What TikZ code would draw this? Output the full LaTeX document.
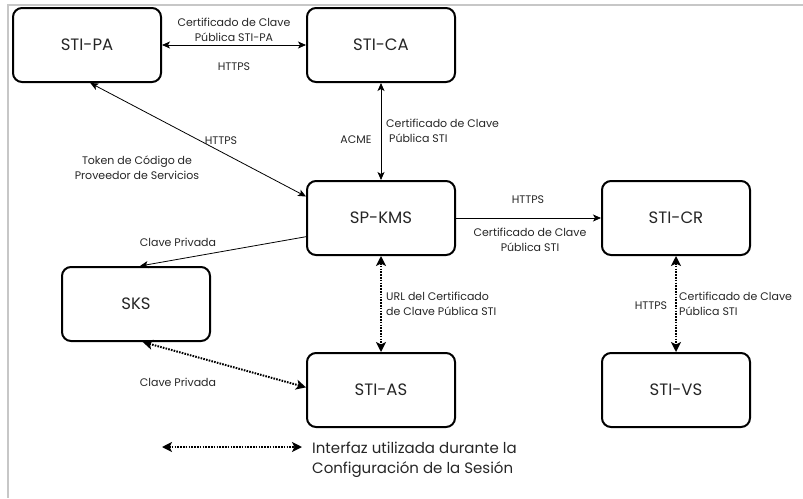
\documentclass[tikz,border=0pt]{standalone}
\usepackage{fontspec}
\setmainfont{Poppins}
\usetikzlibrary{arrows.meta,calc}

\begin{document}
\begin{tikzpicture}[x=1pt,y=-1pt,
  entity/.style={draw=black,line width=2pt,rounded corners=9pt,
    minimum width=148pt,minimum height=74pt,inner sep=0pt,
    font=\fontsize{16.5}{20}\selectfont,text=black!85},
  lbl/.style={font=\fontsize{11}{15}\selectfont,text=black!85,inner sep=0pt,align=center},
  lbll/.style={lbl,align=left},
  link/.style={line width=0.8pt,{Stealth[length=8pt,width=7pt,inset=2pt]}-{Stealth[length=8pt,width=7pt,inset=2pt]}},
  onelink/.style={line width=0.8pt,-{Stealth[length=8pt,width=7pt,inset=2pt]}},
  session/.style={line width=2pt,dash pattern=on 1.6pt off 1.2pt,
    {Stealth[length=10pt,width=10pt,inset=2.5pt]}-{Stealth[length=10pt,width=10pt,inset=2.5pt]}},
  frameline/.style={draw=black!22,line width=2pt}]

\useasboundingbox (0,0) rectangle (803,498);

% outer frame (top and left edges only)
\draw[frameline] (803,4.5) -- (7.5,4.5) -- (7.5,498);

% components
\node[entity] (pa)  at (87,45)   {STI-PA};
\node[entity] (ca)  at (381,45)  {STI-CA};
\node[entity] (kms) at (381,218) {SP-KMS};
\node[entity] (cr)  at (676,218) {STI-CR};
\node[entity] (sks) at (136,304) {SKS};
\node[entity] (as)  at (381,390) {STI-AS};
\node[entity] (vs)  at (676,390) {STI-VS};

% interfaces
\draw[link] (pa.east) -- (ca.west);
\draw[link] (pa.275) -- (kms.164);
\draw[link] (ca.south) -- (kms.north);
\draw[onelink] (kms.east) -- (cr.west);
\draw[onelink] (kms.194) -- (sks.84);
\draw[session] (kms.south) -- (as.north);
\draw[session] (sks.280) -- (as.178);
\draw[session] (cr.south) -- (vs.north);

% interface labels
\node[lbl] (l1) at (234,30) {Certificado de Clave\\Pública STI-PA};
\node[lbl] (l2) at (234,67) {HTTPS};
\node[lbl] (l3) at (221,141) {HTTPS};
\node[lbl] (l4) at (137,168) {Token de Código de\\Proveedor de Servicios};
\node[lbl] (l5) at (356,140) {ACME};
\node[lbll,anchor=west] (l6) at (386,131) {Certificado de Clave\\\ Pública STI};
\node[lbl] (l7) at (528,200) {HTTPS};
\node[lbl] (l8) at (530,240) {Certificado de Clave\\Pública STI};
\node[lbl] (l9) at (178,242) {Clave Privada};
\node[lbll,anchor=west] (l10) at (386,304) {URL del Certificado\\de Clave Pública STI};
\node[lbl] (l11) at (178,382) {Clave Privada};
\node[lbl] (l12) at (651,306) {HTTPS};
\node[lbll,anchor=west] (l13) at (679,304) {Certificado de Clave\\Pública STI};

% legend
\coordinate (lga) at (162,447);
\coordinate (lgb) at (302,447);
\draw[session] (lga) -- (lgb);
\node[lbll,anchor=west,font=\fontsize{15}{20}\selectfont] (lgt) at (312,460)
  {Interfaz utilizada durante la\\Configuración de la Sesión};
\end{tikzpicture}
\end{document}
